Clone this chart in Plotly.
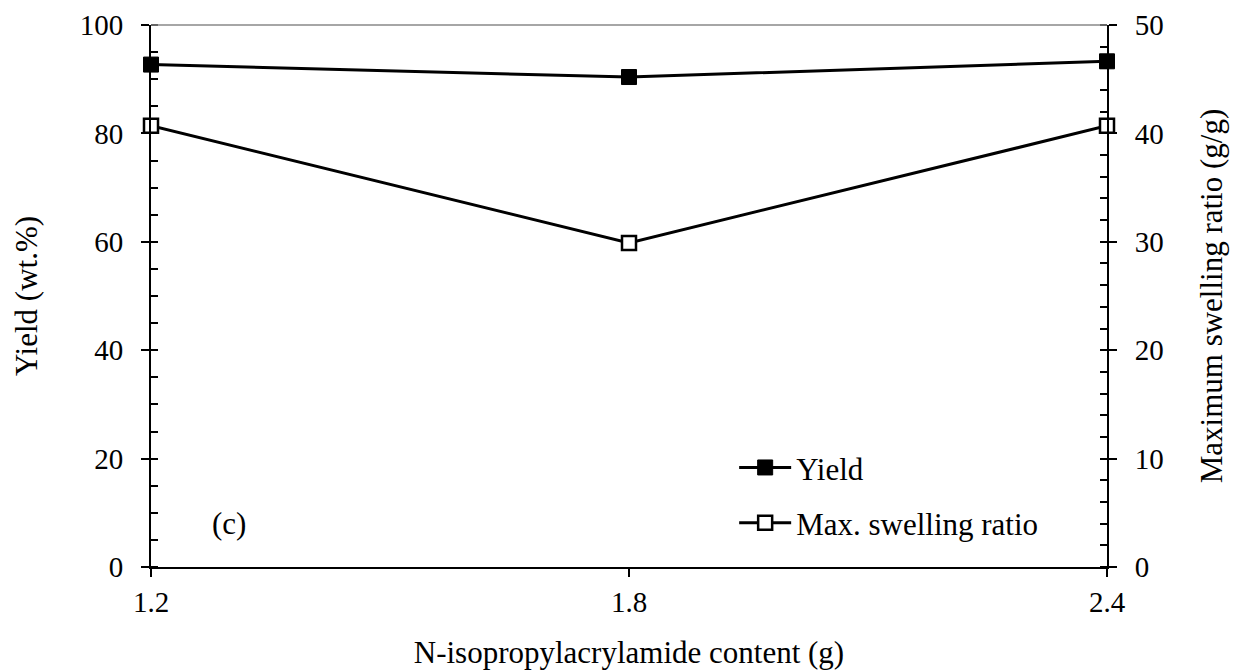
import plotly.graph_objects as go

x_vals = [1.2, 1.8, 2.4]
yield_vals = [92.7, 90.4, 93.3]
swelling_vals = [40.7, 29.9, 40.7]
x_ticks = [1.2, 1.8, 2.4]
x_tick_labels = ["1.2", "1.8", "2.4"]

FONT = "Liberation Serif"
TICK_SIZE = 29
TITLE_SIZE = 31

fig = go.Figure()
fig.add_trace(go.Scatter(
    x=x_vals, y=yield_vals, name="Yield", mode="lines+markers",
    line=dict(color="black", width=3),
    marker=dict(symbol="square", size=15, color="black", line=dict(color="black", width=1)),
    cliponaxis=False, legend="legend"))
fig.add_trace(go.Scatter(
    x=x_vals, y=swelling_vals, name="Max. swelling ratio", mode="lines+markers",
    line=dict(color="black", width=3),
    marker=dict(symbol="square", size=14, color="white", line=dict(color="black", width=2.5)),
    cliponaxis=False, yaxis="y2", legend="legend2"))

axis_common = dict(showgrid=False, zeroline=False, showline=True, linecolor="black", linewidth=2,
                   ticks="outside", ticklen=8, tickwidth=2, tickcolor="black", automargin=False,
                   tickfont=dict(family=FONT, size=TICK_SIZE, color="black"))

fig.update_layout(
    width=1238, height=672,
    margin=dict(l=151, r=131, t=25, b=105),
    paper_bgcolor="white", plot_bgcolor="white",
    font=dict(family=FONT, size=TITLE_SIZE, color="black"),
    showlegend=True,
    xaxis=dict(range=[1.2, 2.4], tickvals=x_ticks, ticktext=x_tick_labels,
               title=dict(text="N-isopropylacrylamide content (g)", font=dict(family=FONT, size=TITLE_SIZE), standoff=25),
               **axis_common),
    yaxis=dict(range=[0, 100], dtick=20, ticklabelstandoff=12,
               minor=dict(dtick=5, ticks="inside", ticklen=7, tickwidth=1.5, tickcolor="black"),
               title=dict(text="Yield (wt.%)", font=dict(family=FONT, size=TITLE_SIZE), standoff=33),
               **axis_common),
    yaxis2=dict(range=[0, 50], dtick=10, overlaying="y", side="right", ticklabelstandoff=12,
                minor=dict(dtick=2, ticks="inside", ticklen=7, tickwidth=1.5, tickcolor="black"),
                title=dict(text="Maximum swelling ratio (g/g)", font=dict(family=FONT, size=TITLE_SIZE), standoff=38),
                **axis_common),
    legend=dict(x=0.610, y=0.183, xanchor="left", yanchor="middle", bgcolor="rgba(0,0,0,0)",
                font=dict(family=FONT, size=TITLE_SIZE), itemwidth=52),
    legend2=dict(x=0.610, y=0.081, xanchor="left", yanchor="middle", bgcolor="rgba(0,0,0,0)",
                 font=dict(family=FONT, size=TITLE_SIZE), itemwidth=52),
    annotations=[dict(text="(c)", x=0.062, y=0.081, xref="paper", yref="paper",
                      xanchor="left", yanchor="middle", showarrow=False,
                      font=dict(family=FONT, size=TITLE_SIZE, color="black"))],
    shapes=[dict(type="line", xref="paper", yref="paper", x0=0, x1=1, y0=1, y1=1,
                 line=dict(color="#888888", width=1.5))],
)

fig.write_html("out.html")
